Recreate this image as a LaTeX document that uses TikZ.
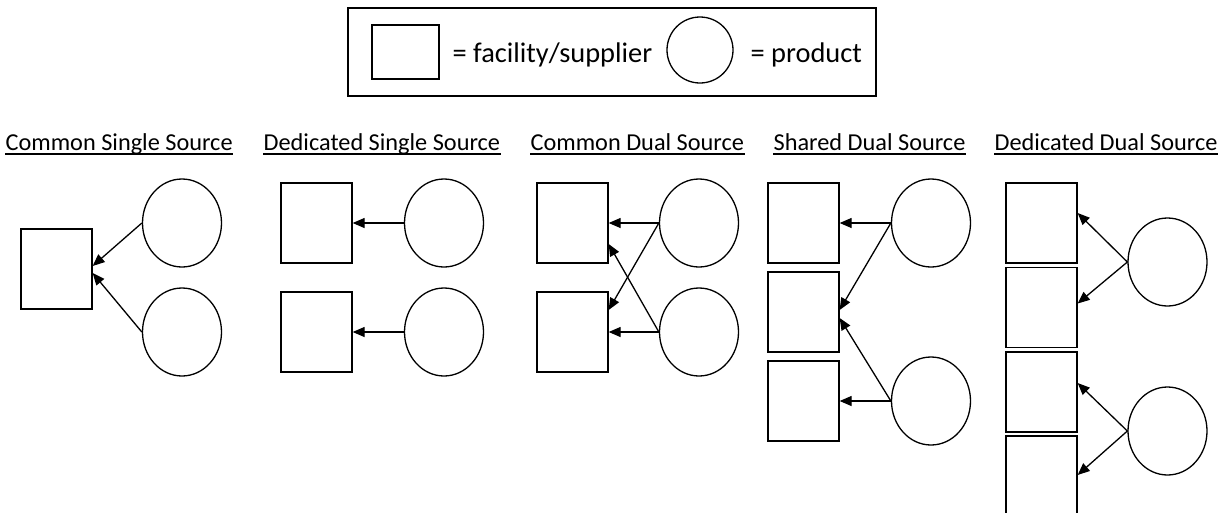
\documentclass[tikz,border=0pt]{standalone}
\usepackage{fontspec}
\setmainfont{Carlito}
\usetikzlibrary{arrows.meta,shapes.geometric}
\tikzset{
	facility/.style={draw, rectangle, inner sep=0pt, minimum width=71pt, minimum height=80pt},
	product/.style={draw, ellipse, inner sep=0pt, minimum width=79pt, minimum height=88pt},
	feed/.style={-{Triangle[length=12pt,width=10pt]}},
	heading/.style={anchor=base west, inner sep=0pt, font=\fontsize{24.3}{29}\selectfont},
	legendtext/.style={anchor=base west, inner sep=0pt, font=\fontsize{28.4}{34}\selectfont},
}

\begin{document}
\begin{tikzpicture}[x=1pt, y=-1pt, line width=1.3pt]
			%%%%% START %%%%%
			\useasboundingbox (0,0) rectangle (1226,512);
			\clip (0,0) rectangle (1226,512);
			
			% legend
			\draw (348,8) rectangle (876,96);
			\node[facility, minimum width=67pt, minimum height=54pt] (lgF) at (405.5,52) {};
			\node[legendtext] (lgFtxt) at (452,62) {= facility/supplier};
			\node[draw, circle, inner sep=0pt, minimum size=66pt] (lgP) at (700,50) {};
			\node[legendtext] (lgPtxt) at (750,62) {= product};
			
			% headings
			\node[heading] (hCS) at (5,150) {Common Single Source};
			\node[heading] (hDS) at (263,150) {Dedicated Single Source};
			\node[heading] (hCD) at (530,150) {Common Dual Source};
			\node[heading] (hSD) at (773,150) {Shared Dual Source};
			\node[heading] (hDD) at (994,150) {Dedicated Dual Source};
			\draw ([yshift=-4pt]hCS.base west) -- ([yshift=-4pt]hCS.base east);
			\draw ([yshift=-4pt]hDS.base west) -- ([yshift=-4pt]hDS.base east);
			\draw ([yshift=-4pt]hCD.base west) -- ([yshift=-4pt]hCD.base east);
			\draw ([yshift=-4pt]hSD.base west) -- ([yshift=-4pt]hSD.base east);
			\draw ([yshift=-4pt]hDD.base west) -- ([yshift=-4pt]hDD.base east);
			
			% common single source
			\node[facility] (csF) at (56.5,269) {};
			\node[product] (csP1) at (182,223) {};
			\node[product] (csP2) at (182,332) {};
			\draw[feed] (csP1.west) -- ([yshift=3pt]csF.east);
			\draw[feed] (csP2.west) -- ([yshift=-4pt]csF.east);
			
			% dedicated single source
			\node[facility] (dsF1) at (316.5,223) {};
			\node[facility] (dsF2) at (316.5,332) {};
			\node[product] (dsP1) at (444,223) {};
			\node[product] (dsP2) at (444,332) {};
			\draw[feed] (dsP1.west) -- (dsF1.east);
			\draw[feed] (dsP2.west) -- (dsF2.east);
			
			% common dual source
			\node[facility] (cdF1) at (572.5,223) {};
			\node[facility] (cdF2) at (572.5,332) {};
			\node[product] (cdP1) at (699,223) {};
			\node[product] (cdP2) at (699,332) {};
			\draw[feed] (cdP1.west) -- (cdF1.east);
			\draw[feed] (cdP1.west) -- ([yshift=22pt]cdF2.east);
			\draw[feed] (cdP2.west) -- ([yshift=-21pt]cdF1.east);
			\draw[feed] (cdP2.west) -- (cdF2.east);
			
			% shared dual source
			\node[facility] (sdF1) at (803.5,223) {};
			\node[facility] (sdF2) at (803.5,312) {};
			\node[facility] (sdF3) at (803.5,401) {};
			\node[product] (sdP1) at (931,223) {};
			\node[product] (sdP2) at (931,401) {};
			\draw[feed] (sdP1.west) -- (sdF1.east);
			\draw[feed] (sdP1.west) -- ([yshift=2pt]sdF2.east);
			\draw[feed] (sdP2.west) -- ([yshift=-6pt]sdF2.east);
			\draw[feed] (sdP2.west) -- (sdF3.east);
			
			% dedicated dual source
			\node[facility] (ddF1) at (1041.5,223) {};
			\node[facility] (ddF2) at (1041.5,307.5) {};
			\node[facility] (ddF3) at (1041.5,392) {};
			\node[facility] (ddF4) at (1041.5,476) {};
			\node[product] (ddP1) at (1167.5,262) {};
			\node[product] (ddP2) at (1167.5,431) {};
			\draw[feed] (ddP1.west) -- ([yshift=10pt]ddF1.east);
			\draw[feed] (ddP1.west) -- ([yshift=4pt]ddF2.east);
			\draw[feed] (ddP2.west) -- ([yshift=9pt]ddF3.east);
			\draw[feed] (ddP2.west) -- ([yshift=1pt]ddF4.east);
			
			%%%%% END %%%%%
\end{tikzpicture}
\end{document}
